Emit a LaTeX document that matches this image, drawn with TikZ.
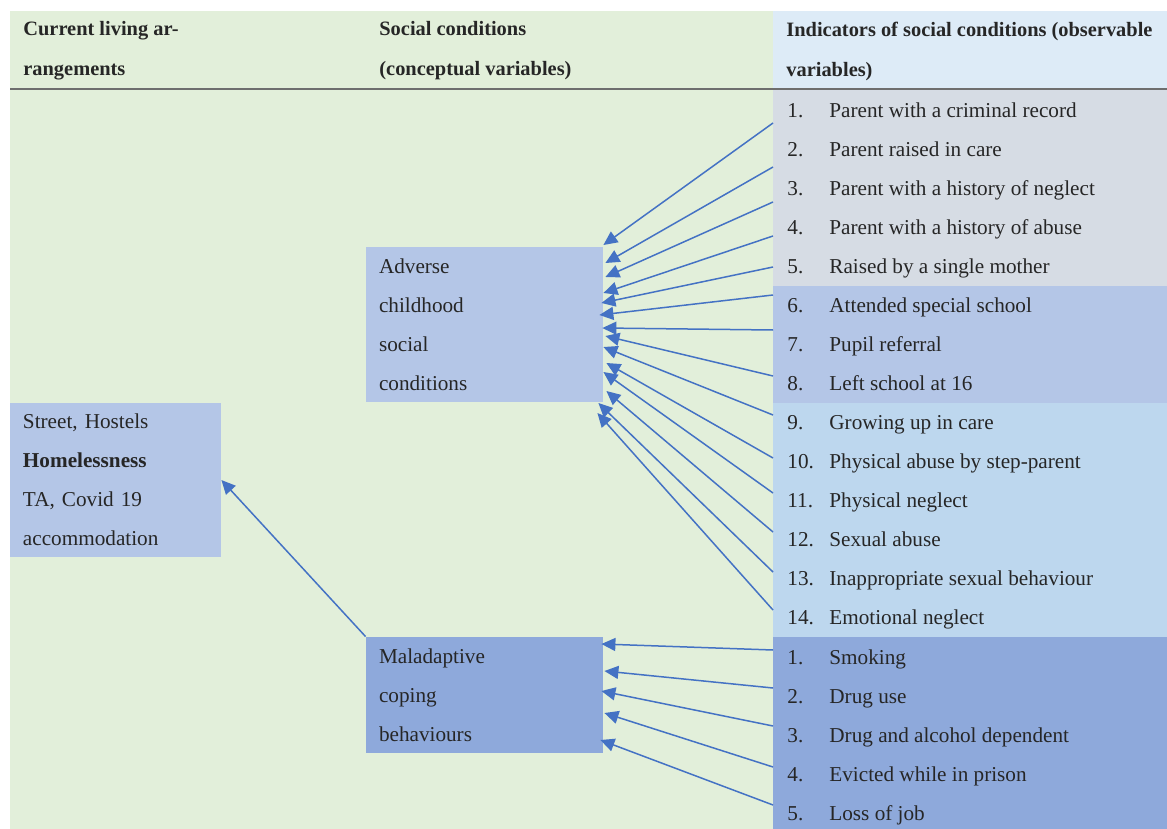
\documentclass[tikz,border=0pt]{standalone}
\usepackage{fontspec}
\setmainfont{Liberation Serif}
\usepackage{tikz}
\usepackage{xcolor}
\usetikzlibrary{arrows.meta,calc,positioning}
\tikzset{%
  arrow/.style={line width=0.75pt,draw=arrowblue,-{Triangle[length=7pt,width=6.5pt]}},
  heading/.style={anchor=west,align=left,inner xsep=6.5pt,inner ysep=0pt,font=\fontsize{10.2}{20}\selectfont\bfseries},
  concept/.style={align=left,inner xsep=6.5pt,inner ysep=0pt,text width=105.5pt,font=\fontsize{10.6}{19.5}\selectfont},
  indicator/.style={anchor=west,inner xsep=7pt,inner ysep=0pt,text height=9.4pt,text depth=2pt,font=\fontsize{10.6}{12}\selectfont},
}
\definecolor{panelgreen}{HTML}{E2EFDA}
\definecolor{headblue}{HTML}{DDEBF7}
\definecolor{greyband}{HTML}{D6DCE4}
\definecolor{midblue}{HTML}{B4C6E7}
\definecolor{paleblue}{HTML}{BDD7EE}
\definecolor{darkblue}{HTML}{8EA9DB}
\definecolor{arrowblue}{HTML}{4472C4}
\definecolor{rulegrey}{HTML}{6E6E6E}
\definecolor{ink}{HTML}{262626}
\newcommand{\itemno}[1]{\makebox[21pt][l]{#1}}

\begin{document}
\begin{tikzpicture}[x=0.5pt,y=-0.5pt,text=ink]
      \useasboundingbox (0,0) rectangle (1167,829);
      % background panels
      \fill[panelgreen] (10,11) rectangle (773,829);
      \fill[headblue] (773,11) rectangle (1167,89);
      \fill[greyband] (773,89) rectangle (1167,286);
      \fill[midblue] (773,286) rectangle (1167,403);
      \fill[paleblue] (773,403) rectangle (1167,637);
      \fill[darkblue] (773,637) rectangle (1167,829);
      \draw[rulegrey,line width=1pt] (10,89) -- (1167,89);

      % column headings
      \node[heading] (hliving) at (10,51) {Current living ar-\\rangements};
      \node[heading] (hsocial) at (366,51) {Social conditions\\(conceptual variables)};
      \node[heading] (hindic) at (773,51) {Indicators of social conditions (observable\\variables)};

      % conceptual variables
      \node[concept,fill=midblue,minimum width=118.5pt,minimum height=77.5pt] (adverse) at (484.5,324.5) {Adverse\\childhood\\social\\conditions};
      \node[concept,fill=darkblue,minimum width=118.5pt,minimum height=58pt] (coping) at (484.5,695) {Maladaptive\\coping\\behaviours};
      \node[concept,fill=midblue,text width=92.5pt,minimum height=77pt] (homeless) at (115.5,480) {Street, Hostels\\\textbf{Homelessness}\\TA, Covid 19\\accommodation};

      % observable variables
      \node[indicator] (ind1) at (773,110) {\itemno{1.}Parent with a criminal record};
      \node[indicator] (ind2) at (773,149) {\itemno{2.}Parent raised in care};
      \node[indicator] (ind3) at (773,188) {\itemno{3.}Parent with a history of neglect};
      \node[indicator] (ind4) at (773,227) {\itemno{4.}Parent with a history of abuse};
      \node[indicator] (ind5) at (773,266) {\itemno{5.}Raised by a single mother};
      \node[indicator] (ind6) at (773,305) {\itemno{6.}Attended special school};
      \node[indicator] (ind7) at (773,344) {\itemno{7.}Pupil referral};
      \node[indicator] (ind8) at (773,383) {\itemno{8.}Left school at 16};
      \node[indicator] (ind9) at (773,422) {\itemno{9.}Growing up in care};
      \node[indicator] (ind10) at (773,461) {\itemno{10.}Physical abuse by step-parent};
      \node[indicator] (ind11) at (773,500) {\itemno{11.}Physical neglect};
      \node[indicator] (ind12) at (773,539) {\itemno{12.}Sexual abuse};
      \node[indicator] (ind13) at (773,578) {\itemno{13.}Inappropriate sexual behaviour};
      \node[indicator] (ind14) at (773,617) {\itemno{14.}Emotional neglect};
      \node[indicator] (beh1) at (773,657) {\itemno{1.}Smoking};
      \node[indicator] (beh2) at (773,696) {\itemno{2.}Drug use};
      \node[indicator] (beh3) at (773,735) {\itemno{3.}Drug and alcohol dependent};
      \node[indicator] (beh4) at (773,774) {\itemno{4.}Evicted while in prison};
      \node[indicator] (beh5) at (773,813) {\itemno{5.}Loss of job};

      \draw[arrow] ($(ind1.west)+(0,13)$) -- ($(adverse.east)+(0,-79.5)$);
      \draw[arrow] ($(ind2.west)+(0,18)$) -- ($(adverse.east)+(2,-61.5)$);
      \draw[arrow] ($(ind3.west)+(0,14)$) -- ($(adverse.east)+(2,-47.5)$);
      \draw[arrow] ($(ind4.west)+(0,9)$) -- ($(adverse.east)+(0,-31.5)$);
      \draw[arrow] ($(ind5.west)+(0,1)$) -- ($(adverse.east)+(-2,-21.5)$);
      \draw[arrow] ($(ind6.west)+(0,-10)$) -- ($(adverse.east)+(-4,-9.5)$);
      \draw[arrow] ($(ind7.west)+(0,-14)$) -- ($(adverse.east)+(-1,3.5)$);
      \draw[arrow] ($(ind8.west)+(0,-7)$) -- ($(adverse.east)+(2,11.5)$);
      \draw[arrow] ($(ind9.west)+(0,-7)$) -- ($(adverse.east)+(0,22.5)$);
      \draw[arrow] ($(ind10.west)+(0,-3)$) -- ($(adverse.east)+(3,38.5)$);
      \draw[arrow] ($(ind11.west)+(0,-7)$) -- ($(adverse.east)+(0,47.5)$);
      \draw[arrow] ($(ind12.west)+(0,-7)$) -- ($(adverse.east)+(3,66.5)$);
      \draw[arrow] ($(ind13.west)+(0,-6)$) -- ($(adverse.east)+(-5,78.5)$);
      \draw[arrow] ($(ind14.west)+(0,-7)$) -- ($(adverse.east)+(-6,88.5)$);

      \draw[arrow] ($(beh1.west)+(0,-7)$) -- ($(coping.east)+(-2,-51)$);
      \draw[arrow] ($(beh2.west)+(0,-8)$) -- ($(coping.east)+(1,-24)$);
      \draw[arrow] ($(beh3.west)+(0,-9)$) -- ($(coping.east)+(-2,-4)$);
      \draw[arrow] ($(beh4.west)+(0,-7)$) -- ($(coping.east)+(1,18)$);
      \draw[arrow] ($(beh5.west)+(0,-8)$) -- ($(coping.east)+(-3,45)$);

      \draw[arrow] (coping.north west) -- (homeless.east);
    \end{tikzpicture}
\end{document}
